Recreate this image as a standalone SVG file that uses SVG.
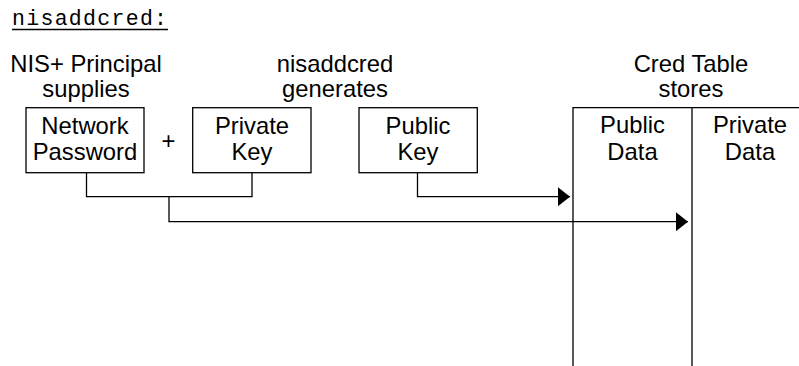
<svg xmlns="http://www.w3.org/2000/svg" width="799" height="366" viewBox="0 0 799 366">
<defs>
<style>
.t{font-family:"Liberation Sans",Arial,sans-serif;font-size:23.8px;fill:#000;text-anchor:middle}
.b{fill:#fff;stroke:#000;stroke-width:1.3}
.c{fill:none;stroke:#000;stroke-width:1.3}
</style>
<marker id="ah" markerUnits="userSpaceOnUse" markerWidth="12" markerHeight="19" refX="12" refY="9.5" orient="auto" viewBox="0 0 12 19">
<path d="M0,0 L12,9.5 L0,19 z" fill="#000"/>
</marker>
</defs>
<rect width="799" height="366" fill="#fff"/>
<g id="title">
<text x="12" y="25" font-family="'Liberation Mono','Courier New',monospace" font-size="21.5" textLength="155" lengthAdjust="spacing">nisaddcred:</text>
<line x1="12" y1="29.5" x2="168" y2="29.5" stroke="#000" stroke-width="1.3"/>
</g>
<g id="hdr-principal">
<text class="t" x="86" y="72">NIS+ Principal</text>
<text class="t" x="86" y="97">supplies</text>
</g>
<g id="hdr-nisaddcred">
<text class="t" x="335" y="72">nisaddcred</text>
<text class="t" x="335" y="97">generates</text>
</g>
<g id="hdr-cred">
<text class="t" x="691" y="72">Cred Table</text>
<text class="t" x="691" y="97">stores</text>
</g>
<g id="network-password">
<rect class="b" x="26" y="107.7" width="118" height="65"/>
<text class="t" x="85" y="133.5">Network</text>
<text class="t" x="85" y="159.5">Password</text>
</g>
<g id="plus">
<text class="t" x="168.5" y="149">+</text>
</g>
<g id="private-key">
<rect class="b" x="192.7" y="107.7" width="118.3" height="65"/>
<text class="t" x="252" y="133.5">Private</text>
<text class="t" x="252" y="159.5">Key</text>
</g>
<g id="public-key">
<rect class="b" x="359" y="107.7" width="118.3" height="65"/>
<text class="t" x="418" y="133.5">Public</text>
<text class="t" x="418" y="159.5">Key</text>
</g>
<g id="cred-table">
<path class="c" d="M573,366 V107.7 H799 M692,107.7 V366"/>
<text class="t" x="632.5" y="133">Public</text>
<text class="t" x="632.5" y="159.5">Data</text>
<text class="t" x="750" y="133">Private</text>
<text class="t" x="750" y="159.5">Data</text>
</g>
<g id="connectors">
<path class="c" d="M86.5,172.7 V196.7 H252 V172.7"/>
<path class="c" d="M169,196.7 V221.7 H688" marker-end="url(#ah)"/>
<path class="c" d="M417.5,172.7 V196.7 H570" marker-end="url(#ah)"/>
</g>
</svg>
